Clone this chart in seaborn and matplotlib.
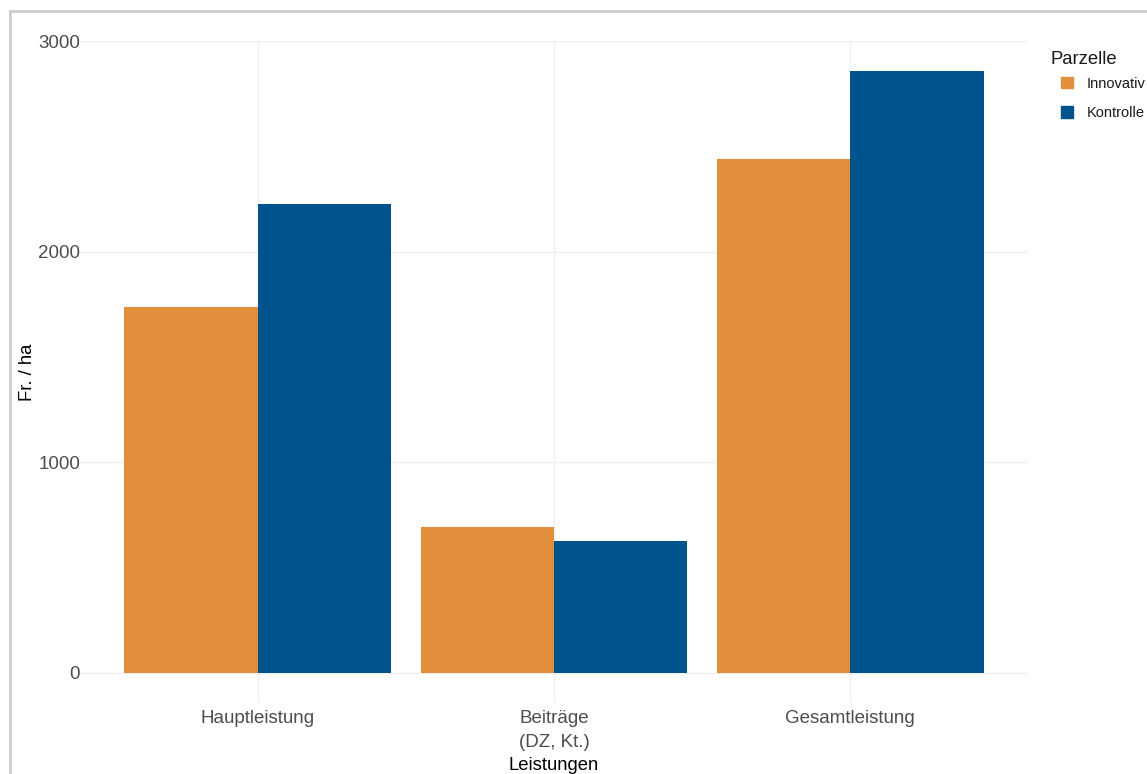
import pandas as pd
import matplotlib
matplotlib.use("Agg")
import matplotlib.pyplot as plt
import seaborn as sns
from matplotlib.patches import Rectangle

# data
leistungen = ["Hauptleistung", "Beiträge\n(DZ, Kt.)", "Gesamtleistung"]
innovativ = [1740, 694, 2439]
kontrolle = [2225, 628, 2858]
parzellen = ["Innovativ", "Kontrolle"]
farben = ["#E28E3B", "#00548E"]

df = pd.DataFrame({
    "Leistungen": leistungen * 2,
    "Parzelle": [parzellen[0]] * 3 + [parzellen[1]] * 3,
    "Wert": innovativ + kontrolle,
})

sns.set_style("white")
plt.rcParams["font.family"] = ["Liberation Sans", "DejaVu Sans"]

W, H = 1147, 774
fig = plt.figure(figsize=(W / 100, H / 100), dpi=100)
ax = fig.add_axes([80 / W, 1 - 703 / H, (1028 - 80) / W, (703 - 41) / H])

sns.barplot(data=df, x="Leistungen", y="Wert", hue="Parzelle",
            order=leistungen, hue_order=parzellen, palette=farben,
            width=0.9, gap=0, saturation=1, linewidth=0, ax=ax)

ax.set_xlim(-0.6, 2.6)
ax.set_ylim(-143, 3001)
ax.set_yticks([0, 1000, 2000, 3000])
ax.set_axisbelow(True)
ax.grid(True, color="#EFEFEF", linewidth=1.0)
for s in ax.spines.values():
    s.set_visible(False)
ax.tick_params(axis="both", length=0, labelsize=13.5, labelcolor="#4D4D4D")
ax.tick_params(axis="y", pad=0)
ax.tick_params(axis="x", pad=5)
for t in ax.get_xticklabels():
    t.set_linespacing(1.55)

ax.set_xlabel("Leistungen", fontsize=13.3, color="black")
ax.xaxis.set_label_coords(0.5, (703 - 765) / 662)
ax.xaxis.label.set_va("center")
ax.set_ylabel("Fr. / ha", fontsize=13.3, color="black")
ax.yaxis.set_label_coords((27 - 80) / 948, 0.5)
ax.yaxis.label.set_va("center")

ax.get_legend().remove()
handles = [Rectangle((0, 0), 1, 1, color=c) for c in farben]
fig.text(1050 / W, 1 - 60 / H, "Parzelle", fontsize=13.3, color="#1A1A1A",
         ha="left", va="center")
leg = fig.legend(handles, parzellen, loc="upper left",
                 bbox_to_anchor=(1049 / W, 1 - 65 / H), frameon=False,
                 fontsize=10.5, handlelength=0.85, handleheight=0.85,
                 handletextpad=0.95, labelspacing=1.05, borderpad=0.3)
for t in leg.get_texts():
    t.set_color("#1A1A1A")

# screenshot frame
fig.add_artist(Rectangle((10 / W, -0.1), 1.2, 1 - 11 / H + 0.1,
                         transform=fig.transFigure, fill=False,
                         edgecolor="#CCCCCC", linewidth=2))

fig.savefig("out.png", dpi=100)
